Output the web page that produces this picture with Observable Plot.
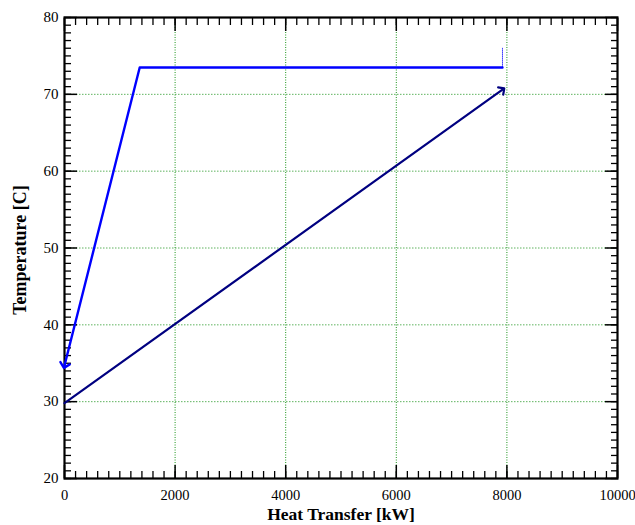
<!DOCTYPE html>
<html><head><meta charset="utf-8">
<script src="https://cdn.jsdelivr.net/npm/d3@7"></script>
<script src="https://cdn.jsdelivr.net/npm/@observablehq/plot@0.6"></script>
<style>body{margin:0;background:#fff}</style>
</head><body><div id="chart"></div>
<script>
// tick values
const xTicks = [0, 2000, 4000, 6000, 8000, 10000];
const yTicks = [20, 30, 40, 50, 60, 70, 80];
const xMinor = d3.range(0, 10001, 200);
const yMinor = d3.range(20, 81, 1);
const xGrid = [2000, 4000, 6000, 8000];
const yGrid = [30, 40, 50, 60, 70];
// hot stream (blue)
const hotQ = [7920, 1360, 0];
const hotT = [73.5, 73.5, 34.7];
// hot stream inlet stub (thin dotted)
const stubQ = [7920, 7920];
const stubT = [76.0, 73.5];
// cold stream (navy)
const coldQ = [0, 7920];
const coldT = [29.8, 70.6];

const hot = hotQ.map((q, i) => ({q, t: hotT[i]}));
const stub = stubQ.map((q, i) => ({q, t: stubT[i]}));
const cold = coldQ.map((q, i) => ({q, t: coldT[i]}));

const blank = () => "";
const chart = Plot.plot({
  width: 635,
  height: 525,
  marginLeft: 64,
  marginRight: 18,
  marginTop: 17,
  marginBottom: 47,
  style: {fontFamily: "Liberation Serif, Times New Roman, serif", fontSize: "14px", color: "#000", background: "#fff"},
  x: {domain: [0, 10000]},
  y: {domain: [20, 80]},
  marks: [
    Plot.gridX(xGrid, {stroke: "#008a00", strokeOpacity: 0.9, strokeDasharray: "1,1.5"}),
    Plot.gridY(yGrid, {stroke: "#2a9a2a", strokeOpacity: 0.75, strokeDasharray: "1.5,1.5"}),
    // inward minor ticks, four sides
    Plot.axisX(xMinor, {anchor: "bottom", tickSize: -7, tickFormat: blank, label: null, strokeWidth: 1.3}),
    Plot.axisX(xMinor, {anchor: "top", tickSize: -7, tickFormat: blank, label: null, strokeWidth: 1.3}),
    Plot.axisY(yMinor, {anchor: "left", tickSize: -7, tickFormat: blank, label: null, strokeWidth: 1.3}),
    Plot.axisY(yMinor, {anchor: "right", tickSize: -7, tickFormat: blank, label: null, strokeWidth: 1.3}),
    // inward major ticks
    Plot.axisX(xTicks, {anchor: "bottom", tickSize: -13, tickFormat: blank, label: null, strokeWidth: 1.5}),
    Plot.axisX(xTicks, {anchor: "top", tickSize: -13, tickFormat: blank, label: null, strokeWidth: 1.5}),
    Plot.axisY(yTicks, {anchor: "left", tickSize: -13, tickFormat: blank, label: null, strokeWidth: 1.5}),
    Plot.axisY(yTicks, {anchor: "right", tickSize: -13, tickFormat: blank, label: null, strokeWidth: 1.5}),
    // tick labels
    Plot.axisX(xTicks, {anchor: "bottom", tickSize: 0, tickPadding: 11, tickFormat: d => String(d), label: null, fontSize: 14.5}),
    Plot.axisY(yTicks, {anchor: "left", tickSize: 0, tickPadding: 6, tickFormat: d => String(d), label: null, fontSize: 15}),
    Plot.frame({stroke: "#000", strokeWidth: 2.2}),
    // streams
    Plot.line(stub, {x: "q", y: "t", stroke: "#4444ff", strokeWidth: 1, strokeDasharray: "1,1"}),
    Plot.line(hot, {x: "q", y: "t", stroke: "#0000ff", strokeWidth: 2.4, markerEnd: "arrow"}),
    Plot.line(cold, {x: "q", y: "t", stroke: "#000080", strokeWidth: 2.2, markerEnd: "arrow"}),
    // axis titles
    Plot.text(["Heat Transfer [kW]"], {frameAnchor: "bottom", lineAnchor: "middle", textAnchor: "middle", dy: 36, fontWeight: "bold", fontSize: 17.5}),
    Plot.text(["Temperature [C]"], {frameAnchor: "left", lineAnchor: "middle", textAnchor: "middle", rotate: -90, dx: -44, dy: 2, fontWeight: "bold", fontSize: 18})
  ]
});
document.getElementById("chart").appendChild(chart);
</script>
</body></html>
